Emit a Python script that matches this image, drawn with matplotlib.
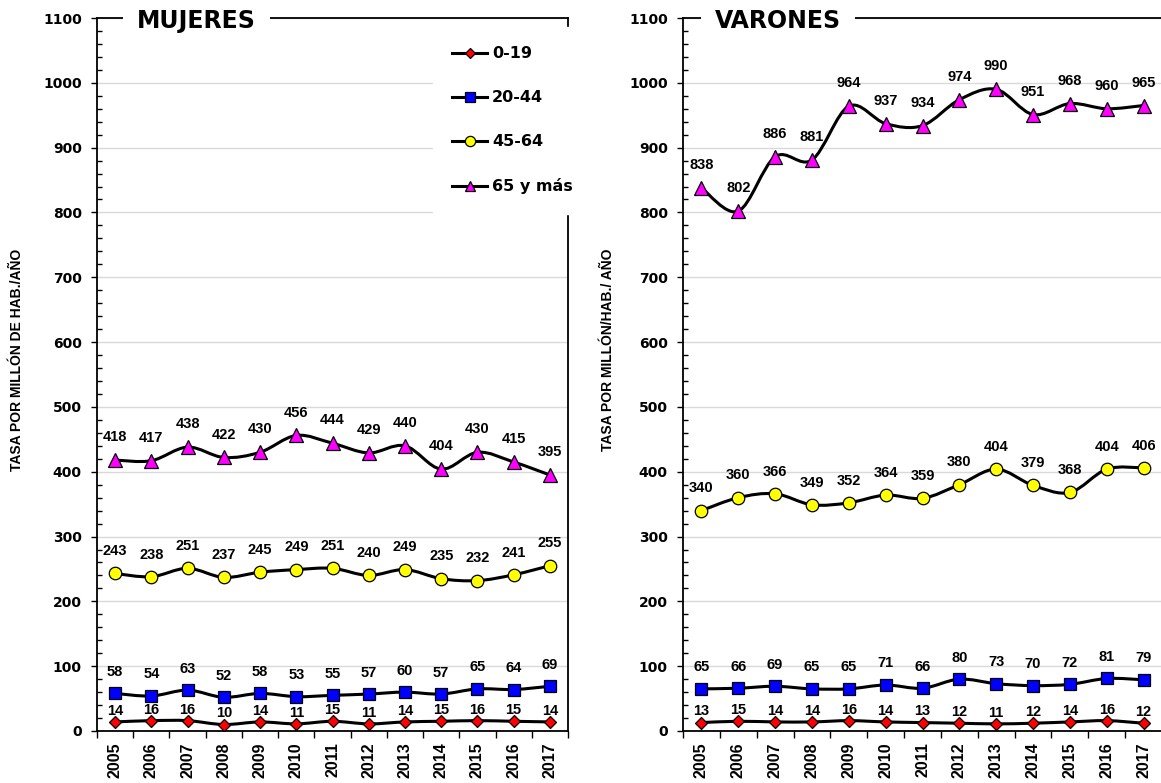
import numpy as np
import matplotlib.pyplot as plt
from matplotlib.path import Path
from matplotlib.patches import PathPatch
from matplotlib.lines import Line2D

plt.rcParams['font.family'] = ['DejaVu Sans']
plt.rcParams['font.weight'] = 'bold'
ARIAL = ['Liberation Sans', 'DejaVu Sans']

years = ['2005', '2006', '2007', '2008', '2009', '2010', '2011',
         '2012', '2013', '2014', '2015', '2016', '2017']
groups = ['0-19', '20-44', '45-64', '65 y más']

# mujeres
muj_0_19 = [14, 16, 16, 10, 14, 11, 15, 11, 14, 15, 16, 15, 14]
muj_20_44 = [58, 54, 63, 52, 58, 53, 55, 57, 60, 57, 65, 64, 69]
muj_45_64 = [243, 238, 251, 237, 245, 249, 251, 240, 249, 235, 232, 241, 255]
muj_65 = [418, 417, 438, 422, 430, 456, 444, 429, 440, 404, 430, 415, 395]

# varones
var_0_19 = [13, 15, 14, 14, 16, 14, 13, 12, 11, 12, 14, 16, 12]
var_20_44 = [65, 66, 69, 65, 65, 71, 66, 80, 73, 70, 72, 81, 79]
var_45_64 = [340, 360, 366, 349, 352, 364, 359, 380, 404, 379, 368, 404, 406]
var_65 = [838, 802, 886, 881, 964, 937, 934, 974, 990, 951, 968, 960, 965]

markers = ['D', 's', 'o', '^']
msizes = [6, 8, 9, 9.5]
colors = ['#FF0000', '#0000FF', '#FFFF00', '#FF00FF']
label_off = [8, 15.5, 16, 16.5]


def smooth_path(x, y):
    # bezier segments like excel "smoothed line"
    pts = np.column_stack([x, y]).astype(float)
    n = len(pts)
    verts = [pts[0]]
    codes = [Path.MOVETO]
    for i in range(n - 1):
        p0 = pts[max(i - 1, 0)]
        p1 = pts[i]
        p2 = pts[i + 1]
        p3 = pts[min(i + 2, n - 1)]
        c1 = p1 + (p2 - p0) / 6.0
        c2 = p2 - (p3 - p1) / 6.0
        verts += [c1, c2, p2]
        codes += [Path.CURVE4] * 3
    return Path(verts, codes)


def draw_panel(ax, series, title, ylabel, title_x, ylab_x, ylab_y):
    x = np.arange(len(years))
    for k, vals in enumerate(series):
        ax.add_patch(PathPatch(smooth_path(x, vals), fill=False, ec='black',
                               lw=2.2, zorder=3))
        ax.plot(x, vals, ls='none', marker=markers[k], ms=msizes[k],
                mfc=colors[k], mec='black', mew=0.9, zorder=4)
        for xi, v in zip(x, vals):
            ax.annotate(str(v), (xi, v), xytext=(0, label_off[k]),
                        textcoords='offset points', ha='center', va='center',
                        fontsize=10.5, fontweight='bold', family=ARIAL, zorder=5)
    ax.set_xlim(-0.5, len(years) - 0.5)
    ax.set_ylim(0, 1100)
    ax.set_xticks(x)
    ax.set_xticklabels(years, rotation=90, fontsize=11.5, fontweight='bold',
                       family=ARIAL)
    ax.set_xticks(np.arange(-0.5, len(years), 1), minor=True)
    ax.tick_params(axis='x', which='major', length=0, pad=8)
    ax.tick_params(axis='x', which='minor', length=5, width=1, direction='out')
    ax.set_yticks(np.arange(0, 1101, 100))
    ax.set_yticks(np.arange(0, 1101, 20), minor=True)
    ax.tick_params(axis='y', which='major', length=4, width=1, direction='out',
                   labelsize=10, pad=7)
    ax.tick_params(axis='y', which='minor', length=3.5, width=1, direction='in')
    for lab in ax.get_yticklabels():
        lab.set_fontweight('bold')
    ax.yaxis.grid(True, color='#d9d9d9', lw=1)
    ax.set_axisbelow(True)
    for s in ax.spines.values():
        s.set_linewidth(1.3)
    ax.set_ylabel(ylabel, fontsize=10, fontweight='bold', family=ARIAL)
    ax.yaxis.set_label_coords(ylab_x, ylab_y)
    ax.text(title_x, 0.996, title, transform=ax.transAxes, ha='left', va='center',
            fontsize=17, fontweight='bold', zorder=6,
            bbox=dict(boxstyle='square,pad=0.6', fc='white', ec='none'))


fig = plt.figure(figsize=(11.61, 7.83), dpi=100)
ax1 = fig.add_axes([97 / 1161, 52 / 783, 471 / 1161, 713 / 783])
ax2 = fig.add_axes([683 / 1161, 52 / 783, 479 / 1161, 713 / 783])

draw_panel(ax1, [muj_0_19, muj_20_44, muj_45_64, muj_65], 'MUJERES',
           'TASA POR MILLÓN DE HAB./AÑO', 0.085, -0.155, 0.52)
draw_panel(ax2, [var_0_19, var_20_44, var_45_64, var_65], 'VARONES',
           'TASA POR MILLÓN/HAB./ AÑO', 0.067, -0.142, 0.535)
ax2.spines['right'].set_visible(False)

handles = [Line2D([], [], color='black', lw=2.2, marker=markers[k],
                  ms=msizes[k] * 0.82, mfc=colors[k], mec='black', mew=0.9)
           for k in range(4)]
leg = ax1.legend(handles, groups, loc='upper left',
                 bbox_to_anchor=(433 / 1161, 1 - 27 / 783),
                 bbox_transform=fig.transFigure, borderaxespad=0,
                 frameon=True, fancybox=False, framealpha=1,
                 facecolor='white', edgecolor='white', borderpad=1.2,
                 labelspacing=1.82, handlelength=2.2, handletextpad=0.3,
                 prop={'size': 11.5, 'weight': 'bold'})
leg.set_zorder(10)

fig.savefig('out.png', dpi=100)
